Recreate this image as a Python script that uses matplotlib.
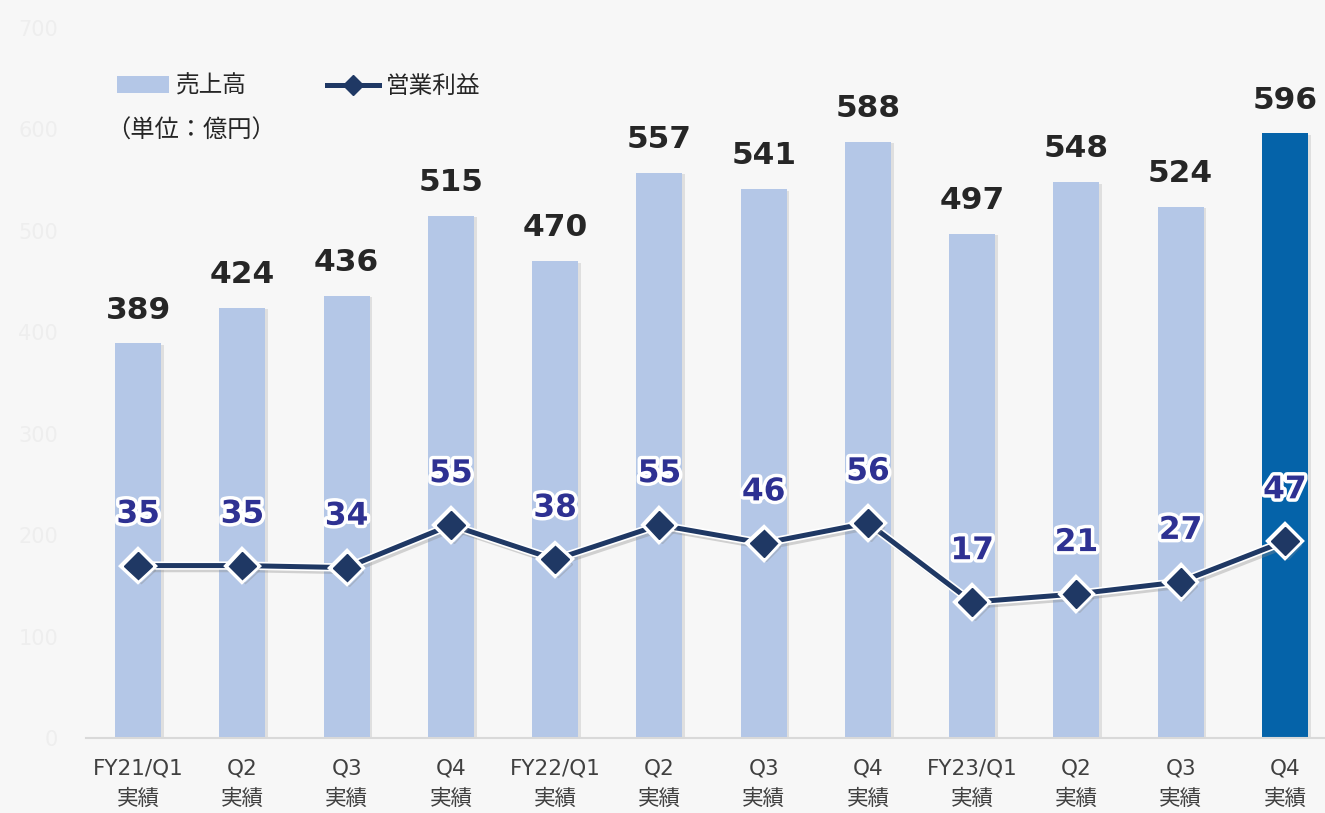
import matplotlib
matplotlib.use("Agg")
import matplotlib.pyplot as plt
import matplotlib.patheffects as pe
from matplotlib.patches import Patch
from matplotlib.lines import Line2D

plt.rcParams['font.family'] = ['DejaVu Sans', 'Noto Sans CJK JP']

# data
periods = ["FY21/Q1\n実績", "Q2\n実績", "Q3\n実績", "Q4\n実績",
           "FY22/Q1\n実績", "Q2\n実績", "Q3\n実績", "Q4\n実績",
           "FY23/Q1\n実績", "Q2\n実績", "Q3\n実績", "Q4\n実績"]
sales = [389, 424, 436, 515, 470, 557, 541, 588, 497, 548, 524, 596]
op_profit = [35, 35, 34, 55, 38, 55, 46, 56, 17, 21, 27, 47]

bg = "#f7f7f7"
bar_light = "#b4c7e7"
bar_dark = "#0563a9"
line_col = "#1f3864"
lbl_col = "#2e3192"

fig = plt.figure(figsize=(13.25, 8.13), dpi=100, facecolor=bg)
ax = fig.add_axes([86 / 1325, 75 / 813, 1251 / 1325, 710 / 813])
ax.set_facecolor(bg)

x = list(range(len(sales)))
colors = [bar_light] * (len(sales) - 1) + [bar_dark]
bars = ax.bar(x, sales, width=0.44, color=colors, zorder=2)
for b in bars:
    b.set_path_effects([pe.SimplePatchShadow(offset=(2, -1), shadow_rgbFace="#aaaaaa", alpha=0.3),
                        pe.Normal()])

for xi, v in zip(x, sales):
    ax.annotate(str(v), (xi, v), xytext=(0, 24), textcoords="offset points",
                ha="center", va="center", fontsize=22.5, fontweight="bold", color="#262626")

ax.set_xlim(-0.5, len(sales) - 0.5)
ax.set_ylim(0, 700)
ax.set_yticks(range(0, 701, 100))
ax.tick_params(axis="y", length=0, pad=20, labelsize=15, labelcolor="#eeeeee")
ax.set_xticks(x)
ax.set_xticklabels(periods, fontsize=15.5, color="#404040", linespacing=1.6)
ax.tick_params(axis="x", length=0, pad=15)
for s in ["top", "right", "left"]:
    ax.spines[s].set_visible(False)
ax.spines["bottom"].set_color("#d9d9d9")
ax.spines["bottom"].set_linewidth(1.5)

# operating profit on hidden secondary axis
ax2 = ax.twinx()
ax2.set_ylim(-50, 300)
ax2.axis("off")
ax2.plot(x, op_profit, color=line_col, lw=3.6, marker="D", ms=14, zorder=3,
         path_effects=[pe.SimpleLineShadow(offset=(2, -3), shadow_color="#888888", alpha=0.35),
                       pe.Stroke(linewidth=6, foreground="white"), pe.Normal()])
for xi, v in zip(x, op_profit):
    ax2.annotate(str(v), (xi, v), xytext=(0, 37), textcoords="offset points",
                 ha="center", va="center", fontsize=22.5, fontweight="bold", color=lbl_col,
                 path_effects=[pe.withStroke(linewidth=5, foreground="white")])

handles = [Patch(facecolor=bar_light, edgecolor="none"),
           Line2D([], [], color=line_col, lw=3.6, marker="D", ms=10)]
fig.legend(handles, ["売上高", "営業利益"], ncol=2, frameon=False,
           loc="upper left", bbox_to_anchor=(117 / 1325, 1 - 74 / 813),
           bbox_transform=fig.transFigure, borderaxespad=0, borderpad=0,
           fontsize=17, handlelength=2.2, handleheight=0.7, handletextpad=0.3,
           columnspacing=3.4, labelcolor="#262626")
fig.text(106 / 1325, 1 - 131 / 813, "（単位：億円）", fontsize=17.5, color="#262626",
         va="center", ha="left")

fig.savefig("out.png", dpi=100, facecolor=bg)
